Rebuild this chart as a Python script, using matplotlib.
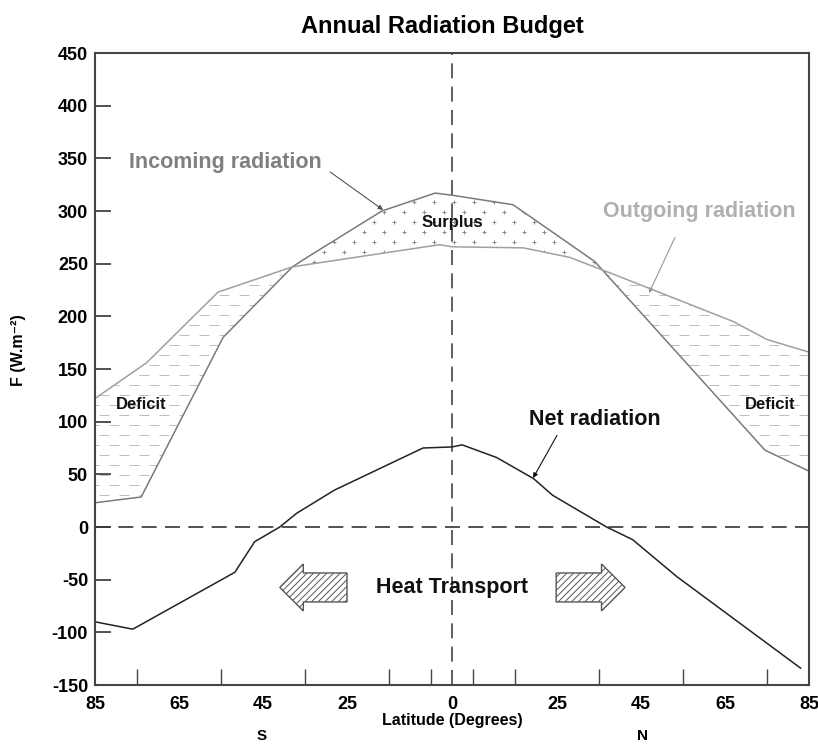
import numpy as np
import matplotlib
matplotlib.use("Agg")
import matplotlib.pyplot as plt
from matplotlib.patches import FancyArrow

plt.rcParams['font.family'] = ['Liberation Sans', 'DejaVu Sans']
plt.rcParams['font.weight'] = 'bold'
plt.rcParams['hatch.linewidth'] = 0.7
plt.rcParams['axes.unicode_minus'] = False

# latitude: negative = south, positive = north
lat_in = [-85, -74, -54.5, -38, -34.5, -16.7, -4, 0, 14.5, 25, 34, 74.5, 85]
F_in = [23, 28.5, 180, 247, 256, 300, 317, 315, 306, 277, 252, 73, 53]

lat_out = [-85, -72.7, -55.7, -38, -3, 0, 17, 28, 38.4, 46.7, 67, 75, 85]
F_out = [122, 156, 223, 247, 268, 266, 265, 256, 240, 227, 195, 178, 166]

lat_net = [-85, -76, -51.7, -47, -41, -37, -28, -6.9, 0, 2.4, 10.6, 19.4, 24, 36.8, 43, 53.5, 83]
F_net = [-90, -97, -43, -14, 0, 13, 35, 75, 76, 78, 66, 46, 30, 0, -12, -47, -134]

x_ticks = [-85, -65, -45, -25, 0, 25, 45, 65, 85]
x_ticklabels = ['85', '65', '45', '25', '0', '25', '45', '65', '85']
x_minor = list(range(-75, 80, 10))
y_ticks = list(range(-150, 451, 50))

fig = plt.figure(figsize=(8.18, 7.45), dpi=100)
ax = fig.add_axes([95 / 818, 1 - 685 / 745, 714 / 818, 632 / 745])
ax.set_xlim(-85, 85)
ax.set_ylim(-150, 450)

# filled regions between incoming and outgoing
grid = np.union1d(lat_in, lat_out)
g_in = np.interp(grid, lat_in, F_in)
g_out = np.interp(grid, lat_out, F_out)

surplus = ax.fill_between(grid, g_out, g_in, where=g_in >= g_out, interpolate=True,
                          facecolor='none', edgecolor='none')
deficit = ax.fill_between(grid, g_in, g_out, where=g_out >= g_in, interpolate=True,
                          facecolor='none', edgecolor='none')

# pattern marks: pluses in surplus, dashes in deficit
dx_p, dy_p = 20 / 4.2, 10 / 1.0533
rows = np.arange(-150, 450, dy_p)
pts_x, pts_y = [], []
for i, yy in enumerate(rows):
    xs = np.arange(-90 + (dx_p / 2 if i % 2 else 0), 90, dx_p)
    pts_x.extend(xs)
    pts_y.extend([yy + 3] * len(xs))
for path in surplus.get_paths():
    sc = ax.scatter(pts_x, pts_y, marker='+', s=12, color='#8a8a8a', linewidths=0.7)
    sc.set_clip_path(path, ax.transData)

dx_d = 20 / 4.2
pts_x, pts_y = [], []
for i, yy in enumerate(rows):
    xs = np.arange(-90 + (dx_d / 2 if i % 2 else 0), 90, dx_d)
    pts_x.extend(xs)
    pts_y.extend([yy] * len(xs))
for path in deficit.get_paths():
    sc = ax.scatter(pts_x, pts_y, marker='_', s=50, color='#bdbdbd', linewidths=0.7)
    sc.set_clip_path(path, ax.transData)

# reference lines
ax.axhline(0, color='#333333', lw=1.2, linestyle=(0, (9, 5)))
ax.axvline(0, color='#444444', lw=1.2, linestyle=(0, (9, 5)))

ax.plot(lat_in, F_in, color='#7a7a7a', lw=1.1)
ax.plot(lat_out, F_out, color='#a0a0a0', lw=1.1)
ax.plot(lat_net, F_net, color='#222222', lw=1.1)

# heat transport arrows
for tail, dx in [(-25, -16), (24.8, 16.4)]:
    ax.add_patch(FancyArrow(tail, -57.4, dx, 0, width=27.5, head_width=44.6,
                            head_length=5.6, length_includes_head=True,
                            facecolor='white', edgecolor='#555555', lw=1.0,
                            hatch='/////'))

# labels and pointers
ax.text(-54, 345.7, 'Incoming radiation', color='#808080', fontsize=15.5,
        ha='center', va='center')
ax.annotate('', xy=(-16.4, 301), xytext=(-29, 337),
            arrowprops=dict(arrowstyle='-|>', color='#555555', lw=0.8,
                            mutation_scale=7, shrinkA=0, shrinkB=0))
ax.text(58.8, 300, 'Outgoing radiation', color='#b0b0b0', fontsize=15.5,
        ha='center', va='center')
ax.annotate('', xy=(46.9, 222), xytext=(53.1, 275),
            arrowprops=dict(arrowstyle='-|>', color='#999999', lw=0.8,
                            mutation_scale=7, shrinkA=0, shrinkB=0))
ax.text(33.9, 101.6, 'Net radiation', color='#111111', fontsize=15.5,
        ha='center', va='center')
ax.annotate('', xy=(19.3, 46.5), xytext=(25, 87),
            arrowprops=dict(arrowstyle='-|>', color='#111111', lw=0.8,
                            mutation_scale=7, shrinkA=0, shrinkB=0))
ax.text(0, -57, 'Heat Transport', color='#111111', fontsize=15.5,
        ha='center', va='center')
ax.text(0, 288.7, 'Surplus', color='#111111', fontsize=12, ha='center', va='center')
ax.text(-73.9, 115.9, 'Deficit', color='#111111', fontsize=12, ha='center', va='center')
ax.text(75.8, 115.9, 'Deficit', color='#111111', fontsize=12, ha='center', va='center')

# axes styling
for s in ax.spines.values():
    s.set_color('#444444')
    s.set_linewidth(1.5)
ax.set_yticks(y_ticks)
ax.tick_params(axis='y', direction='in', length=11.5, width=1.3, color='#444444',
               labelsize=13, pad=5)
ax.set_xticks(x_ticks)
ax.set_xticklabels(x_ticklabels)
ax.set_xticks(x_minor, minor=True)
ax.tick_params(axis='x', which='major', length=0, labelsize=13, pad=8)
ax.tick_params(axis='x', which='minor', direction='in', length=11.5, width=1.0,
               color='#444444')
for lbl in ax.get_xticklabels() + ax.get_yticklabels():
    lbl.set_fontweight('bold')

fig.text(452 / 818, 1 - 721 / 745, 'Latitude (Degrees)', fontsize=11.5,
         ha='center', va='center')
fig.text(262 / 818, 0.003, 'S', fontsize=11, ha='center', va='bottom')
fig.text(643 / 818, 0.003, 'N', fontsize=11, ha='center', va='bottom')
fig.text(18 / 818, 1 - 350 / 745, 'F (W.m\u207b\u00b2)', fontsize=11.5,
         rotation=90, ha='center', va='center')
fig.text(442 / 818, 1 - 27 / 745, 'Annual Radiation Budget', fontsize=17,
         ha='center', va='center')

fig.savefig('out.png', dpi=100)
